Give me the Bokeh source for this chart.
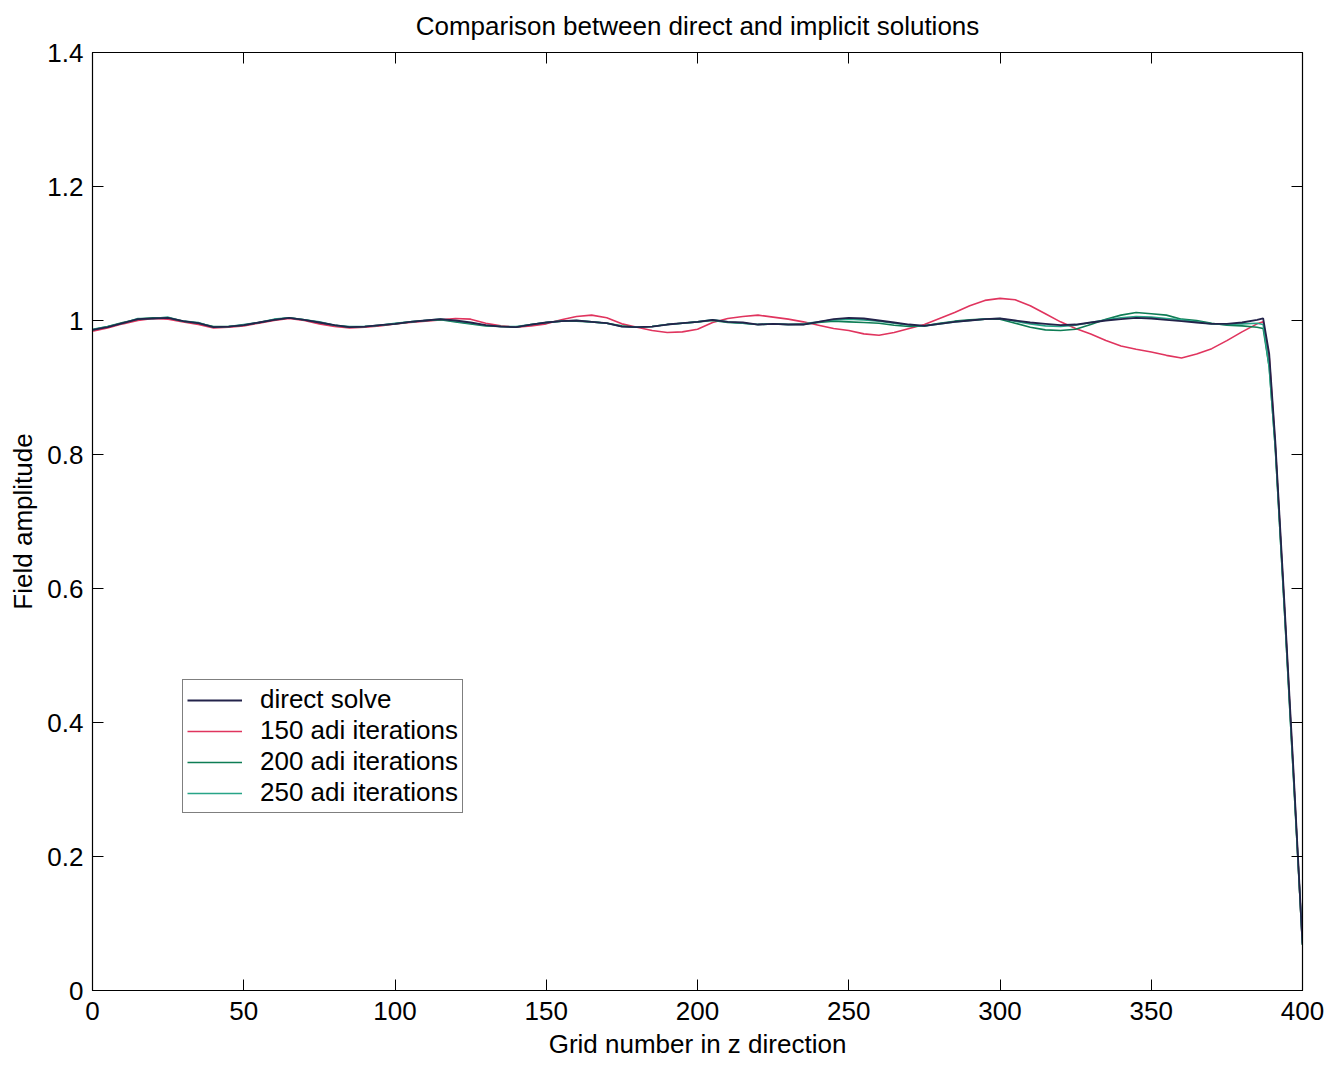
from bokeh.plotting import figure
from bokeh.models import (Range1d, LinearAxis, Legend, LegendItem, Title,
                          FixedTicker)
from bokeh.embed import file_html
from bokeh.resources import INLINE

# ---------------- data ----------------
grid = [0, 5, 10, 15, 20, 25, 30, 35, 40, 45, 50, 55, 60, 65, 70, 75, 80, 85,
        90, 95, 100, 105, 110, 115, 120, 125, 130, 135, 140, 145, 150, 155,
        160, 165, 170, 175, 180, 185, 190, 195, 200, 205, 210, 215, 220, 225,
        230, 235, 240, 245, 250, 255, 260, 265, 270, 275, 280, 285, 290, 295,
        300, 305, 310, 315, 320, 325, 330, 335, 340, 345, 350, 355, 360, 365,
        370, 375, 380, 385, 387, 389, 391, 394, 397, 400]

direct_solve = [0.986, 0.990, 0.996, 1.002, 1.003, 1.004, 0.999, 0.996, 0.990,
                0.991, 0.993, 0.997, 1.001, 1.004, 1.001, 0.997, 0.993, 0.990,
                0.991, 0.993, 0.995, 0.998, 1.000, 1.002, 1.000, 0.997, 0.993,
                0.991, 0.990, 0.994, 0.997, 0.999, 1.000, 0.998, 0.996, 0.991,
                0.990, 0.991, 0.994, 0.996, 0.998, 1.001, 0.998, 0.997, 0.994,
                0.995, 0.994, 0.994, 0.998, 1.002, 1.004, 1.003, 1.000, 0.997,
                0.994, 0.992, 0.995, 0.998, 1.000, 1.002, 1.003, 1.000, 0.997,
                0.995, 0.993, 0.994, 0.997, 1.000, 1.002, 1.004, 1.003, 1.001,
                0.999, 0.997, 0.995, 0.995, 0.997, 1.001, 1.003, 0.950, 0.820,
                0.580, 0.330, 0.070]

adi_150 = [0.984, 0.989, 0.995, 1.000, 1.003, 1.002, 0.998, 0.994, 0.989,
           0.990, 0.992, 0.996, 1.000, 1.003, 1.000, 0.995, 0.991, 0.989,
           0.990, 0.992, 0.995, 0.997, 0.999, 1.001, 1.003, 1.002, 0.996,
           0.992, 0.990, 0.992, 0.995, 1.001, 1.006, 1.008, 1.004, 0.995,
           0.990, 0.985, 0.982, 0.983, 0.987, 0.997, 1.003, 1.006, 1.008,
           1.005, 1.002, 0.998, 0.993, 0.988, 0.985, 0.980, 0.978, 0.982,
           0.988, 0.994, 1.003, 1.012, 1.022, 1.030, 1.033, 1.031, 1.022,
           1.010, 0.998, 0.988, 0.980, 0.970, 0.962, 0.957, 0.953, 0.948,
           0.944, 0.950, 0.958, 0.970, 0.983, 0.995, 0.998, 0.945, 0.815,
           0.575, 0.325, 0.068]

adi_200 = [0.986, 0.991, 0.997, 1.002, 1.004, 1.004, 0.999, 0.996, 0.991,
           0.991, 0.993, 0.997, 1.001, 1.004, 1.001, 0.997, 0.993, 0.990,
           0.991, 0.993, 0.995, 0.998, 1.000, 1.001, 0.998, 0.995, 0.992,
           0.991, 0.990, 0.994, 0.997, 0.999, 0.999, 0.998, 0.996, 0.992,
           0.990, 0.991, 0.994, 0.996, 0.998, 1.000, 0.997, 0.996, 0.994,
           0.995, 0.994, 0.994, 0.997, 0.999, 0.998, 0.997, 0.996, 0.993,
           0.991, 0.992, 0.996, 0.999, 1.001, 1.002, 1.002, 0.996, 0.990,
           0.986, 0.985, 0.987, 0.994, 1.002, 1.008, 1.012, 1.010, 1.008,
           1.002, 1.000, 0.996, 0.993, 0.992, 0.990, 0.988, 0.930, 0.810,
           0.570, 0.320, 0.068]

adi_250 = [0.987, 0.991, 0.996, 1.003, 1.003, 1.005, 0.999, 0.997, 0.990,
           0.991, 0.994, 0.997, 1.002, 1.004, 1.001, 0.998, 0.993, 0.991,
           0.991, 0.993, 0.996, 0.998, 1.000, 1.002, 0.999, 0.996, 0.993,
           0.991, 0.991, 0.994, 0.997, 0.999, 1.000, 0.998, 0.996, 0.991,
           0.990, 0.991, 0.994, 0.996, 0.998, 1.001, 0.998, 0.996, 0.994,
           0.995, 0.994, 0.995, 0.998, 1.001, 1.002, 1.001, 0.999, 0.996,
           0.993, 0.992, 0.995, 0.998, 1.000, 1.002, 1.003, 0.999, 0.995,
           0.992, 0.991, 0.993, 0.997, 1.001, 1.004, 1.006, 1.005, 1.003,
           1.001, 0.998, 0.995, 0.994, 0.995, 0.996, 0.994, 0.930, 0.810,
           0.570, 0.320, 0.068]

series_labels = ["direct solve", "150 adi iterations", "200 adi iterations",
                 "250 adi iterations"]
x_ticks = [0, 50, 100, 150, 200, 250, 300, 350, 400]
y_ticks = [0, 0.2, 0.4, 0.6, 0.8, 1.0, 1.2, 1.4]
y_tick_labels = ["0", "0.2", "0.4", "0.6", "0.8", "1", "1.2", "1.4"]

# ---------------- styling ----------------
FONT = "Liberation Sans"
FS = "26px"

p = figure(width=1338, height=1065, output_backend="svg",
           toolbar_location=None,
           x_range=Range1d(0, 400), y_range=Range1d(0, 1.4),
           min_border_left=92, min_border_right=36,
           min_border_top=52, min_border_bottom=75)
p.title = Title(text="Comparison between direct and implicit solutions",
                align="center", vertical_align="top",
                text_font=FONT, text_font_size="26px",
                text_font_style="normal", text_color="black", standoff=20)
p.background_fill_color = "white"
p.border_fill_color = "white"
p.grid.visible = False
p.outline_line_color = "black"
p.outline_line_width = 1.2

bottom_axis = p.below[0]
left_axis = p.left[0]

top_axis = LinearAxis()
right_axis = LinearAxis()
p.add_layout(top_axis, "above")
p.add_layout(right_axis, "right")

for ax in [bottom_axis, top_axis]:
    ax.ticker = FixedTicker(ticks=x_ticks)
for ax in [left_axis, right_axis]:
    ax.ticker = FixedTicker(ticks=y_ticks)
left_axis.major_label_overrides = {t: l for t, l in zip(y_ticks, y_tick_labels)}

for ax in [bottom_axis, left_axis, top_axis, right_axis]:
    ax.major_tick_in = 11
    ax.major_tick_out = 0
    ax.minor_tick_line_color = None
    ax.axis_line_color = "black"
    ax.major_tick_line_color = "black"
    ax.major_label_text_font = FONT
    ax.major_label_text_font_size = FS
    ax.major_label_text_color = "black"
    ax.major_label_standoff = 9
    ax.axis_label_text_font = FONT
    ax.axis_label_text_font_size = FS
    ax.axis_label_text_font_style = "normal"
    ax.axis_label_text_color = "black"

for ax in [top_axis, right_axis]:
    ax.major_label_text_font_size = "2px"
    ax.major_label_text_color = None
    ax.major_label_standoff = 0

bottom_axis.major_label_standoff = 11
bottom_axis.axis_label = "Grid number in z direction"
bottom_axis.axis_label_standoff = 6
left_axis.axis_label = "Field amplitude"
left_axis.axis_label_standoff = 6

colors = ["#23234a", "#e0345e", "#0e7d55", "#27a487"]
r150 = p.line(grid, adi_150, line_color=colors[1], line_width=1.6)
r200 = p.line(grid, adi_200, line_color=colors[2], line_width=1.6)
r250 = p.line(grid, adi_250, line_color=colors[3], line_width=1.6)
rdir = p.line(grid, direct_solve, line_color=colors[0], line_width=1.8)

legend = Legend(items=[LegendItem(label=series_labels[0], renderers=[rdir]),
                       LegendItem(label=series_labels[1], renderers=[r150]),
                       LegendItem(label=series_labels[2], renderers=[r200]),
                       LegendItem(label=series_labels[3], renderers=[r250])],
                location=(90, 177))
legend.label_text_font = FONT
legend.label_text_font_size = "26px"
legend.label_text_color = "black"
legend.label_height = 24
legend.glyph_height = 20
legend.glyph_width = 55
legend.label_standoff = 18
legend.spacing = 0
legend.padding = 4
legend.margin = 0
legend.border_line_color = "black"
legend.border_line_width = 1.2
legend.background_fill_color = "white"
legend.background_fill_alpha = 1.0
p.add_layout(legend, "center")

open("out.html", "w").write(file_html(p, INLINE))
